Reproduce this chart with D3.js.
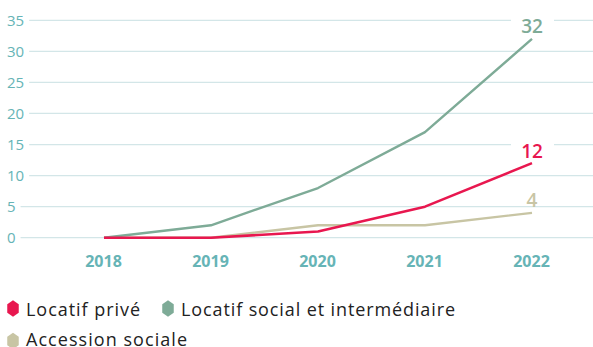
<!DOCTYPE html>
<html>
<head>
<meta charset="utf-8">
<script src="https://cdn.jsdelivr.net/npm/d3@7"></script>
<style>
  html, body { margin: 0; padding: 0; background: #fff; overflow: hidden; }
  svg { display: block; font-family: "Open Sans", "Noto Sans", sans-serif; }
</style>
</head>
<body>
<svg id="chart" width="593" height="347"></svg>
<script>
const years = ["2018", "2019", "2020", "2021", "2022"];
const locatifPrive = [0, 0, 1, 5, 12];
const locatifSocial = [0, 2, 8, 17, 32];
const accessionSociale = [0, 0, 2, 2, 4];
const yTicks = [0, 5, 10, 15, 20, 25, 30, 35];

const series = [
  { name: "Accession sociale", values: accessionSociale, color: "#c8c5a4" },
  { name: "Locatif social et intermédiaire", values: locatifSocial, color: "#7eab97" },
  { name: "Locatif privé", values: locatifPrive, color: "#e8174f" }
];

const svg = d3.select("#chart");
const tickColor = "#66b4b6";
const gridColor = "#d3e6e8";

const x = d3.scalePoint().domain(years).range([104, 532]);
const y = d3.scaleLinear().domain([0, 35]).range([237.7, 20.3]);

// y axis: labels on the left, gridlines running to the right edge
const yAxis = svg.append("g").attr("class", "y-axis");
yTicks.forEach(t => {
  const g = yAxis.append("g").attr("transform", `translate(0,${y(t)})`);
  const label = g.append("text")
    .attr("x", 7).attr("dy", "0.36em")
    .attr("fill", tickColor)
    .attr("font-size", 15)
    .text(t);
  const w = label.node().getComputedTextLength();
  g.insert("line", "text")
    .attr("x1", 7 + w + 5).attr("x2", 593)
    .attr("stroke", gridColor).attr("stroke-width", 1.2);
});

// x axis year labels
const xAxis = d3.axisBottom(x).tickSize(0).tickPadding(0);
const gx = svg.append("g").attr("transform", "translate(-1,261)").call(xAxis);
gx.select(".domain").remove();
gx.selectAll("text")
  .attr("fill", tickColor)
  .attr("font-family", "'Open Sans', sans-serif")
  .attr("font-size", 16)
  .attr("font-weight", 700)
  .attr("dy", "0.36em");

// lines
const line = d3.line().x((d, i) => x(years[i])).y(d => y(d));
series.forEach(s => {
  svg.append("path")
    .datum(s.values)
    .attr("fill", "none")
    .attr("stroke", s.color)
    .attr("stroke-width", s.name === "Locatif privé" ? 2.6 : 2.4)
    .attr("stroke-linejoin", "round")
    .attr("d", line);
});

// end value labels, with a white backing that breaks the gridline
series.forEach(s => {
  const v = s.values[s.values.length - 1];
  const lx = x(years[years.length - 1]);
  const base = y(v) - 5.5;
  svg.append("rect")
    .attr("x", lx - 21).attr("y", base - 17)
    .attr("width", 43).attr("height", 11)
    .attr("fill", "#fff");
  svg.append("text")
    .attr("x", lx).attr("y", base)
    .attr("text-anchor", "middle")
    .attr("fill", s.color)
    .attr("font-size", 19)
    .attr("font-weight", 600)
    .text(v);
});

// legend
const hex = (cx, cy, r) => {
  const pts = d3.range(6).map(k => {
    const a = Math.PI / 3 * k - Math.PI / 2;
    return [cx + 0.8 * r * Math.cos(a), cy + r * Math.sin(a)];
  });
  return "M" + pts.map(p => p.join(",")).join("L") + "Z";
};
const legendItems = [
  { name: "Locatif privé", color: "#e8174f", hx: 13, hy: 308.5, ty: 316, w: 114 },
  { name: "Locatif social et intermédiaire", color: "#7eab97", hx: 168, hy: 308.5, ty: 316, w: 274 },
  { name: "Accession sociale", color: "#c8c5a4", hx: 13, hy: 341, ty: 346, w: 161 }
];
legendItems.forEach(it => {
  svg.append("path").attr("d", hex(it.hx, it.hy, 8.3)).attr("fill", it.color);
  svg.append("text")
    .attr("x", it.hx + 13).attr("y", it.ty)
    .attr("fill", "#222")
    .attr("font-size", 18)
    .attr("textLength", it.w)
    .attr("lengthAdjust", "spacing")
    .text(it.name);
});
</script>
</body>
</html>
